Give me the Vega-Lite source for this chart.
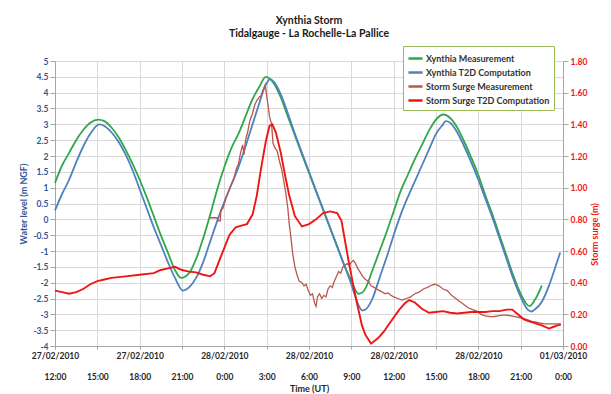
{
"$schema": "https://vega.github.io/schema/vega-lite/v6.json",
"width": 508, "height": 285,
"autosize": "none",
"padding": {"left": 55, "top": 61, "right": 48, "bottom": 48},
"background": "white",
"config": {"font": "Lato", "view": {"stroke": null}},
"title": {"text": ["Xynthia Storm", "Tidalgauge - La Rochelle-La Pallice"], "fontSize": 10.5, "fontWeight": "bold", "lineHeight": 13, "offset": 6, "anchor": "middle", "color": "#1a1a1a"},
"datasets": {
"level": [
{"series":"Xynthia Measurement","time":"2010-02-27T12:00Z","value":1.15},
{"series":"Xynthia Measurement","time":"2010-02-27T12:30Z","value":1.7},
{"series":"Xynthia Measurement","time":"2010-02-27T13:00Z","value":2.1},
{"series":"Xynthia Measurement","time":"2010-02-27T13:30Z","value":2.5},
{"series":"Xynthia Measurement","time":"2010-02-27T14:00Z","value":2.82},
{"series":"Xynthia Measurement","time":"2010-02-27T14:30Z","value":3.05},
{"series":"Xynthia Measurement","time":"2010-02-27T15:04Z","value":3.15},
{"series":"Xynthia Measurement","time":"2010-02-27T15:30Z","value":3.1},
{"series":"Xynthia Measurement","time":"2010-02-27T16:00Z","value":2.9},
{"series":"Xynthia Measurement","time":"2010-02-27T16:30Z","value":2.6},
{"series":"Xynthia Measurement","time":"2010-02-27T17:00Z","value":2.2},
{"series":"Xynthia Measurement","time":"2010-02-27T17:30Z","value":1.75},
{"series":"Xynthia Measurement","time":"2010-02-27T18:00Z","value":1.25},
{"series":"Xynthia Measurement","time":"2010-02-27T18:30Z","value":0.7},
{"series":"Xynthia Measurement","time":"2010-02-27T19:00Z","value":0.1},
{"series":"Xynthia Measurement","time":"2010-02-27T19:30Z","value":-0.5},
{"series":"Xynthia Measurement","time":"2010-02-27T20:00Z","value":-1.05},
{"series":"Xynthia Measurement","time":"2010-02-27T20:30Z","value":-1.6},
{"series":"Xynthia Measurement","time":"2010-02-27T20:56Z","value":-1.85},
{"series":"Xynthia Measurement","time":"2010-02-27T21:30Z","value":-1.7},
{"series":"Xynthia Measurement","time":"2010-02-27T22:00Z","value":-1.25},
{"series":"Xynthia Measurement","time":"2010-02-27T22:30Z","value":-0.6},
{"series":"Xynthia Measurement","time":"2010-02-27T23:00Z","value":0.15},
{"series":"Xynthia Measurement","time":"2010-02-27T23:30Z","value":0.95},
{"series":"Xynthia Measurement","time":"2010-02-28T00:00Z","value":1.65},
{"series":"Xynthia Measurement","time":"2010-02-28T00:30Z","value":2.25},
{"series":"Xynthia Measurement","time":"2010-02-28T01:00Z","value":2.7},
{"series":"Xynthia Measurement","time":"2010-02-28T01:30Z","value":3.25},
{"series":"Xynthia Measurement","time":"2010-02-28T02:00Z","value":3.8},
{"series":"Xynthia Measurement","time":"2010-02-28T02:30Z","value":4.2},
{"series":"Xynthia Measurement","time":"2010-02-28T02:56Z","value":4.5},
{"series":"Xynthia Measurement","time":"2010-02-28T03:30Z","value":4.3},
{"series":"Xynthia Measurement","time":"2010-02-28T04:00Z","value":3.85},
{"series":"Xynthia Measurement","time":"2010-02-28T04:30Z","value":3.25},
{"series":"Xynthia Measurement","time":"2010-02-28T05:00Z","value":2.65},
{"series":"Xynthia Measurement","time":"2010-02-28T05:30Z","value":2.05},
{"series":"Xynthia Measurement","time":"2010-02-28T06:00Z","value":1.47},
{"series":"Xynthia Measurement","time":"2010-02-28T06:30Z","value":0.88},
{"series":"Xynthia Measurement","time":"2010-02-28T07:00Z","value":0.3},
{"series":"Xynthia Measurement","time":"2010-02-28T07:30Z","value":-0.28},
{"series":"Xynthia Measurement","time":"2010-02-28T08:00Z","value":-0.86},
{"series":"Xynthia Measurement","time":"2010-02-28T08:30Z","value":-1.45},
{"series":"Xynthia Measurement","time":"2010-02-28T09:00Z","value":-1.95},
{"series":"Xynthia Measurement","time":"2010-02-28T09:15Z","value":-2.2},
{"series":"Xynthia Measurement","time":"2010-02-28T09:30Z","value":-2.35},
{"series":"Xynthia Measurement","time":"2010-02-28T09:45Z","value":-2.32},
{"series":"Xynthia Measurement","time":"2010-02-28T10:00Z","value":-2.18},
{"series":"Xynthia Measurement","time":"2010-02-28T10:30Z","value":-1.6},
{"series":"Xynthia Measurement","time":"2010-02-28T11:00Z","value":-1.0},
{"series":"Xynthia Measurement","time":"2010-02-28T11:30Z","value":-0.4},
{"series":"Xynthia Measurement","time":"2010-02-28T12:00Z","value":0.25},
{"series":"Xynthia Measurement","time":"2010-02-28T12:30Z","value":0.9},
{"series":"Xynthia Measurement","time":"2010-02-28T13:00Z","value":1.4},
{"series":"Xynthia Measurement","time":"2010-02-28T13:30Z","value":1.9},
{"series":"Xynthia Measurement","time":"2010-02-28T14:00Z","value":2.35},
{"series":"Xynthia Measurement","time":"2010-02-28T14:30Z","value":2.8},
{"series":"Xynthia Measurement","time":"2010-02-28T15:00Z","value":3.15},
{"series":"Xynthia Measurement","time":"2010-02-28T15:31Z","value":3.31},
{"series":"Xynthia Measurement","time":"2010-02-28T16:00Z","value":3.2},
{"series":"Xynthia Measurement","time":"2010-02-28T16:30Z","value":2.9},
{"series":"Xynthia Measurement","time":"2010-02-28T17:00Z","value":2.45},
{"series":"Xynthia Measurement","time":"2010-02-28T17:30Z","value":1.95},
{"series":"Xynthia Measurement","time":"2010-02-28T18:00Z","value":1.4},
{"series":"Xynthia Measurement","time":"2010-02-28T18:30Z","value":0.75},
{"series":"Xynthia Measurement","time":"2010-02-28T19:00Z","value":0.15},
{"series":"Xynthia Measurement","time":"2010-02-28T19:30Z","value":-0.5},
{"series":"Xynthia Measurement","time":"2010-02-28T20:00Z","value":-1.15},
{"series":"Xynthia Measurement","time":"2010-02-28T20:30Z","value":-1.8},
{"series":"Xynthia Measurement","time":"2010-02-28T21:00Z","value":-2.35},
{"series":"Xynthia Measurement","time":"2010-02-28T21:38Z","value":-2.74},
{"series":"Xynthia Measurement","time":"2010-02-28T22:00Z","value":-2.55},
{"series":"Xynthia Measurement","time":"2010-02-28T22:30Z","value":-2.09},
{"series":"Xynthia T2D Computation","time":"2010-02-27T12:00Z","value":0.28},
{"series":"Xynthia T2D Computation","time":"2010-02-27T12:30Z","value":0.8},
{"series":"Xynthia T2D Computation","time":"2010-02-27T13:00Z","value":1.25},
{"series":"Xynthia T2D Computation","time":"2010-02-27T13:30Z","value":1.8},
{"series":"Xynthia T2D Computation","time":"2010-02-27T14:00Z","value":2.3},
{"series":"Xynthia T2D Computation","time":"2010-02-27T14:30Z","value":2.7},
{"series":"Xynthia T2D Computation","time":"2010-02-27T15:08Z","value":3.0},
{"series":"Xynthia T2D Computation","time":"2010-02-27T15:30Z","value":2.95},
{"series":"Xynthia T2D Computation","time":"2010-02-27T16:00Z","value":2.75},
{"series":"Xynthia T2D Computation","time":"2010-02-27T16:30Z","value":2.45},
{"series":"Xynthia T2D Computation","time":"2010-02-27T17:00Z","value":2.05},
{"series":"Xynthia T2D Computation","time":"2010-02-27T17:30Z","value":1.55},
{"series":"Xynthia T2D Computation","time":"2010-02-27T18:00Z","value":0.95},
{"series":"Xynthia T2D Computation","time":"2010-02-27T18:30Z","value":0.35},
{"series":"Xynthia T2D Computation","time":"2010-02-27T19:00Z","value":-0.25},
{"series":"Xynthia T2D Computation","time":"2010-02-27T19:30Z","value":-0.8},
{"series":"Xynthia T2D Computation","time":"2010-02-27T20:00Z","value":-1.35},
{"series":"Xynthia T2D Computation","time":"2010-02-27T20:30Z","value":-1.85},
{"series":"Xynthia T2D Computation","time":"2010-02-27T21:04Z","value":-2.25},
{"series":"Xynthia T2D Computation","time":"2010-02-27T21:30Z","value":-2.15},
{"series":"Xynthia T2D Computation","time":"2010-02-27T22:00Z","value":-1.85},
{"series":"Xynthia T2D Computation","time":"2010-02-27T22:30Z","value":-1.35},
{"series":"Xynthia T2D Computation","time":"2010-02-27T23:00Z","value":-0.7},
{"series":"Xynthia T2D Computation","time":"2010-02-27T23:30Z","value":-0.05},
{"series":"Xynthia T2D Computation","time":"2010-02-28T00:00Z","value":0.55},
{"series":"Xynthia T2D Computation","time":"2010-02-28T00:30Z","value":1.1},
{"series":"Xynthia T2D Computation","time":"2010-02-28T01:00Z","value":1.65},
{"series":"Xynthia T2D Computation","time":"2010-02-28T01:30Z","value":2.3},
{"series":"Xynthia T2D Computation","time":"2010-02-28T02:00Z","value":3.0},
{"series":"Xynthia T2D Computation","time":"2010-02-28T02:30Z","value":3.7},
{"series":"Xynthia T2D Computation","time":"2010-02-28T02:45Z","value":4.05},
{"series":"Xynthia T2D Computation","time":"2010-02-28T03:00Z","value":4.3},
{"series":"Xynthia T2D Computation","time":"2010-02-28T03:14Z","value":4.43},
{"series":"Xynthia T2D Computation","time":"2010-02-28T03:30Z","value":4.35},
{"series":"Xynthia T2D Computation","time":"2010-02-28T04:00Z","value":3.95},
{"series":"Xynthia T2D Computation","time":"2010-02-28T04:30Z","value":3.35},
{"series":"Xynthia T2D Computation","time":"2010-02-28T05:00Z","value":2.7},
{"series":"Xynthia T2D Computation","time":"2010-02-28T05:30Z","value":2.1},
{"series":"Xynthia T2D Computation","time":"2010-02-28T06:00Z","value":1.5},
{"series":"Xynthia T2D Computation","time":"2010-02-28T06:30Z","value":0.9},
{"series":"Xynthia T2D Computation","time":"2010-02-28T07:00Z","value":0.32},
{"series":"Xynthia T2D Computation","time":"2010-02-28T07:30Z","value":-0.27},
{"series":"Xynthia T2D Computation","time":"2010-02-28T08:00Z","value":-0.86},
{"series":"Xynthia T2D Computation","time":"2010-02-28T08:30Z","value":-1.45},
{"series":"Xynthia T2D Computation","time":"2010-02-28T09:00Z","value":-2.05},
{"series":"Xynthia T2D Computation","time":"2010-02-28T09:15Z","value":-2.4},
{"series":"Xynthia T2D Computation","time":"2010-02-28T09:30Z","value":-2.7},
{"series":"Xynthia T2D Computation","time":"2010-02-28T09:46Z","value":-2.88},
{"series":"Xynthia T2D Computation","time":"2010-02-28T10:00Z","value":-2.85},
{"series":"Xynthia T2D Computation","time":"2010-02-28T10:30Z","value":-2.5},
{"series":"Xynthia T2D Computation","time":"2010-02-28T11:00Z","value":-1.85},
{"series":"Xynthia T2D Computation","time":"2010-02-28T11:30Z","value":-1.2},
{"series":"Xynthia T2D Computation","time":"2010-02-28T12:00Z","value":-0.5},
{"series":"Xynthia T2D Computation","time":"2010-02-28T12:30Z","value":0.15},
{"series":"Xynthia T2D Computation","time":"2010-02-28T13:00Z","value":0.7},
{"series":"Xynthia T2D Computation","time":"2010-02-28T13:30Z","value":1.2},
{"series":"Xynthia T2D Computation","time":"2010-02-28T14:00Z","value":1.7},
{"series":"Xynthia T2D Computation","time":"2010-02-28T14:30Z","value":2.2},
{"series":"Xynthia T2D Computation","time":"2010-02-28T15:00Z","value":2.7},
{"series":"Xynthia T2D Computation","time":"2010-02-28T15:30Z","value":3.0},
{"series":"Xynthia T2D Computation","time":"2010-02-28T15:41Z","value":3.1},
{"series":"Xynthia T2D Computation","time":"2010-02-28T16:00Z","value":3.05},
{"series":"Xynthia T2D Computation","time":"2010-02-28T16:30Z","value":2.75},
{"series":"Xynthia T2D Computation","time":"2010-02-28T17:00Z","value":2.3},
{"series":"Xynthia T2D Computation","time":"2010-02-28T17:30Z","value":1.8},
{"series":"Xynthia T2D Computation","time":"2010-02-28T18:00Z","value":1.25},
{"series":"Xynthia T2D Computation","time":"2010-02-28T18:30Z","value":0.65},
{"series":"Xynthia T2D Computation","time":"2010-02-28T19:00Z","value":0.05},
{"series":"Xynthia T2D Computation","time":"2010-02-28T19:30Z","value":-0.6},
{"series":"Xynthia T2D Computation","time":"2010-02-28T20:00Z","value":-1.25},
{"series":"Xynthia T2D Computation","time":"2010-02-28T20:30Z","value":-1.9},
{"series":"Xynthia T2D Computation","time":"2010-02-28T21:00Z","value":-2.45},
{"series":"Xynthia T2D Computation","time":"2010-02-28T21:30Z","value":-2.85},
{"series":"Xynthia T2D Computation","time":"2010-02-28T21:46Z","value":-2.91},
{"series":"Xynthia T2D Computation","time":"2010-02-28T22:00Z","value":-2.85},
{"series":"Xynthia T2D Computation","time":"2010-02-28T22:30Z","value":-2.6},
{"series":"Xynthia T2D Computation","time":"2010-02-28T23:00Z","value":-2.1},
{"series":"Xynthia T2D Computation","time":"2010-02-28T23:30Z","value":-1.45},
{"series":"Xynthia T2D Computation","time":"2010-02-28T23:48Z","value":-1.05}
],
"surge": [
{"series":"Storm Surge Measurement","time":"2010-02-27T22:57Z","value":0.81},
{"series":"Storm Surge Measurement","time":"2010-02-27T23:30Z","value":0.81},
{"series":"Storm Surge Measurement","time":"2010-02-27T23:33Z","value":0.79},
{"series":"Storm Surge Measurement","time":"2010-02-27T23:43Z","value":0.79},
{"series":"Storm Surge Measurement","time":"2010-02-27T23:45Z","value":0.86},
{"series":"Storm Surge Measurement","time":"2010-02-27T23:54Z","value":0.87},
{"series":"Storm Surge Measurement","time":"2010-02-28T00:06Z","value":0.93},
{"series":"Storm Surge Measurement","time":"2010-02-28T00:21Z","value":0.99},
{"series":"Storm Surge Measurement","time":"2010-02-28T00:30Z","value":1.02},
{"series":"Storm Surge Measurement","time":"2010-02-28T00:42Z","value":1.06},
{"series":"Storm Surge Measurement","time":"2010-02-28T00:51Z","value":1.12},
{"series":"Storm Surge Measurement","time":"2010-02-28T01:00Z","value":1.15},
{"series":"Storm Surge Measurement","time":"2010-02-28T01:09Z","value":1.22},
{"series":"Storm Surge Measurement","time":"2010-02-28T01:18Z","value":1.27},
{"series":"Storm Surge Measurement","time":"2010-02-28T01:24Z","value":1.21},
{"series":"Storm Surge Measurement","time":"2010-02-28T01:30Z","value":1.3},
{"series":"Storm Surge Measurement","time":"2010-02-28T01:39Z","value":1.35},
{"series":"Storm Surge Measurement","time":"2010-02-28T01:48Z","value":1.42},
{"series":"Storm Surge Measurement","time":"2010-02-28T02:00Z","value":1.47},
{"series":"Storm Surge Measurement","time":"2010-02-28T02:09Z","value":1.52},
{"series":"Storm Surge Measurement","time":"2010-02-28T02:18Z","value":1.55},
{"series":"Storm Surge Measurement","time":"2010-02-28T02:27Z","value":1.57},
{"series":"Storm Surge Measurement","time":"2010-02-28T02:36Z","value":1.58},
{"series":"Storm Surge Measurement","time":"2010-02-28T02:45Z","value":1.62},
{"series":"Storm Surge Measurement","time":"2010-02-28T02:54Z","value":1.65},
{"series":"Storm Surge Measurement","time":"2010-02-28T03:00Z","value":1.58},
{"series":"Storm Surge Measurement","time":"2010-02-28T03:06Z","value":1.52},
{"series":"Storm Surge Measurement","time":"2010-02-28T03:12Z","value":1.45},
{"series":"Storm Surge Measurement","time":"2010-02-28T03:21Z","value":1.4},
{"series":"Storm Surge Measurement","time":"2010-02-28T03:27Z","value":1.28},
{"series":"Storm Surge Measurement","time":"2010-02-28T03:36Z","value":1.25},
{"series":"Storm Surge Measurement","time":"2010-02-28T03:45Z","value":1.23},
{"series":"Storm Surge Measurement","time":"2010-02-28T03:54Z","value":1.17},
{"series":"Storm Surge Measurement","time":"2010-02-28T04:03Z","value":1.12},
{"series":"Storm Surge Measurement","time":"2010-02-28T04:12Z","value":1.05},
{"series":"Storm Surge Measurement","time":"2010-02-28T04:21Z","value":0.97},
{"series":"Storm Surge Measurement","time":"2010-02-28T04:30Z","value":0.87},
{"series":"Storm Surge Measurement","time":"2010-02-28T04:36Z","value":0.77},
{"series":"Storm Surge Measurement","time":"2010-02-28T04:42Z","value":0.7},
{"series":"Storm Surge Measurement","time":"2010-02-28T04:51Z","value":0.58},
{"series":"Storm Surge Measurement","time":"2010-02-28T05:00Z","value":0.5},
{"series":"Storm Surge Measurement","time":"2010-02-28T05:09Z","value":0.45},
{"series":"Storm Surge Measurement","time":"2010-02-28T05:18Z","value":0.41},
{"series":"Storm Surge Measurement","time":"2010-02-28T05:30Z","value":0.4},
{"series":"Storm Surge Measurement","time":"2010-02-28T05:39Z","value":0.38},
{"series":"Storm Surge Measurement","time":"2010-02-28T05:48Z","value":0.39},
{"series":"Storm Surge Measurement","time":"2010-02-28T05:57Z","value":0.35},
{"series":"Storm Surge Measurement","time":"2010-02-28T06:06Z","value":0.32},
{"series":"Storm Surge Measurement","time":"2010-02-28T06:15Z","value":0.33},
{"series":"Storm Surge Measurement","time":"2010-02-28T06:24Z","value":0.27},
{"series":"Storm Surge Measurement","time":"2010-02-28T06:30Z","value":0.25},
{"series":"Storm Surge Measurement","time":"2010-02-28T06:36Z","value":0.31},
{"series":"Storm Surge Measurement","time":"2010-02-28T06:45Z","value":0.33},
{"series":"Storm Surge Measurement","time":"2010-02-28T06:54Z","value":0.3},
{"series":"Storm Surge Measurement","time":"2010-02-28T07:03Z","value":0.32},
{"series":"Storm Surge Measurement","time":"2010-02-28T07:12Z","value":0.31},
{"series":"Storm Surge Measurement","time":"2010-02-28T07:21Z","value":0.36},
{"series":"Storm Surge Measurement","time":"2010-02-28T07:30Z","value":0.38},
{"series":"Storm Surge Measurement","time":"2010-02-28T07:39Z","value":0.37},
{"series":"Storm Surge Measurement","time":"2010-02-28T07:48Z","value":0.41},
{"series":"Storm Surge Measurement","time":"2010-02-28T07:57Z","value":0.44},
{"series":"Storm Surge Measurement","time":"2010-02-28T08:06Z","value":0.47},
{"series":"Storm Surge Measurement","time":"2010-02-28T08:15Z","value":0.46},
{"series":"Storm Surge Measurement","time":"2010-02-28T08:24Z","value":0.5},
{"series":"Storm Surge Measurement","time":"2010-02-28T08:33Z","value":0.51},
{"series":"Storm Surge Measurement","time":"2010-02-28T08:42Z","value":0.52},
{"series":"Storm Surge Measurement","time":"2010-02-28T08:51Z","value":0.51},
{"series":"Storm Surge Measurement","time":"2010-02-28T09:00Z","value":0.53},
{"series":"Storm Surge Measurement","time":"2010-02-28T09:09Z","value":0.54},
{"series":"Storm Surge Measurement","time":"2010-02-28T09:18Z","value":0.52},
{"series":"Storm Surge Measurement","time":"2010-02-28T09:27Z","value":0.49},
{"series":"Storm Surge Measurement","time":"2010-02-28T09:36Z","value":0.47},
{"series":"Storm Surge Measurement","time":"2010-02-28T09:48Z","value":0.44},
{"series":"Storm Surge Measurement","time":"2010-02-28T10:00Z","value":0.42},
{"series":"Storm Surge Measurement","time":"2010-02-28T10:12Z","value":0.41},
{"series":"Storm Surge Measurement","time":"2010-02-28T10:24Z","value":0.38},
{"series":"Storm Surge Measurement","time":"2010-02-28T10:36Z","value":0.37},
{"series":"Storm Surge Measurement","time":"2010-02-28T10:48Z","value":0.36},
{"series":"Storm Surge Measurement","time":"2010-02-28T11:00Z","value":0.35},
{"series":"Storm Surge Measurement","time":"2010-02-28T11:12Z","value":0.34},
{"series":"Storm Surge Measurement","time":"2010-02-28T11:24Z","value":0.33},
{"series":"Storm Surge Measurement","time":"2010-02-28T11:36Z","value":0.335},
{"series":"Storm Surge Measurement","time":"2010-02-28T11:48Z","value":0.32},
{"series":"Storm Surge Measurement","time":"2010-02-28T12:00Z","value":0.31},
{"series":"Storm Surge Measurement","time":"2010-02-28T12:18Z","value":0.3},
{"series":"Storm Surge Measurement","time":"2010-02-28T12:36Z","value":0.29},
{"series":"Storm Surge Measurement","time":"2010-02-28T12:54Z","value":0.3},
{"series":"Storm Surge Measurement","time":"2010-02-28T13:12Z","value":0.31},
{"series":"Storm Surge Measurement","time":"2010-02-28T13:30Z","value":0.33},
{"series":"Storm Surge Measurement","time":"2010-02-28T13:48Z","value":0.34},
{"series":"Storm Surge Measurement","time":"2010-02-28T14:06Z","value":0.36},
{"series":"Storm Surge Measurement","time":"2010-02-28T14:24Z","value":0.37},
{"series":"Storm Surge Measurement","time":"2010-02-28T14:42Z","value":0.385},
{"series":"Storm Surge Measurement","time":"2010-02-28T14:57Z","value":0.39},
{"series":"Storm Surge Measurement","time":"2010-02-28T15:12Z","value":0.38},
{"series":"Storm Surge Measurement","time":"2010-02-28T15:30Z","value":0.36},
{"series":"Storm Surge Measurement","time":"2010-02-28T15:48Z","value":0.35},
{"series":"Storm Surge Measurement","time":"2010-02-28T16:06Z","value":0.32},
{"series":"Storm Surge Measurement","time":"2010-02-28T16:24Z","value":0.3},
{"series":"Storm Surge Measurement","time":"2010-02-28T16:42Z","value":0.28},
{"series":"Storm Surge Measurement","time":"2010-02-28T17:00Z","value":0.26},
{"series":"Storm Surge Measurement","time":"2010-02-28T17:18Z","value":0.24},
{"series":"Storm Surge Measurement","time":"2010-02-28T17:36Z","value":0.23},
{"series":"Storm Surge Measurement","time":"2010-02-28T17:54Z","value":0.22},
{"series":"Storm Surge Measurement","time":"2010-02-28T18:12Z","value":0.2},
{"series":"Storm Surge Measurement","time":"2010-02-28T18:30Z","value":0.19},
{"series":"Storm Surge Measurement","time":"2010-02-28T18:48Z","value":0.185},
{"series":"Storm Surge Measurement","time":"2010-02-28T19:06Z","value":0.185},
{"series":"Storm Surge Measurement","time":"2010-02-28T19:24Z","value":0.19},
{"series":"Storm Surge Measurement","time":"2010-02-28T19:42Z","value":0.195},
{"series":"Storm Surge Measurement","time":"2010-02-28T20:00Z","value":0.195},
{"series":"Storm Surge Measurement","time":"2010-02-28T20:18Z","value":0.19},
{"series":"Storm Surge Measurement","time":"2010-02-28T20:36Z","value":0.185},
{"series":"Storm Surge Measurement","time":"2010-02-28T20:54Z","value":0.18},
{"series":"Storm Surge Measurement","time":"2010-02-28T21:12Z","value":0.175},
{"series":"Storm Surge Measurement","time":"2010-02-28T21:30Z","value":0.165},
{"series":"Storm Surge Measurement","time":"2010-02-28T21:48Z","value":0.155},
{"series":"Storm Surge Measurement","time":"2010-02-28T22:06Z","value":0.15},
{"series":"Storm Surge Measurement","time":"2010-02-28T22:24Z","value":0.145},
{"series":"Storm Surge Measurement","time":"2010-02-28T22:42Z","value":0.14},
{"series":"Storm Surge Measurement","time":"2010-02-28T23:00Z","value":0.14},
{"series":"Storm Surge Measurement","time":"2010-02-28T23:18Z","value":0.14},
{"series":"Storm Surge Measurement","time":"2010-02-28T23:36Z","value":0.14},
{"series":"Storm Surge Measurement","time":"2010-02-28T23:51Z","value":0.14},
{"series":"Storm Surge T2D Computation","time":"2010-02-27T12:00Z","value":0.35},
{"series":"Storm Surge T2D Computation","time":"2010-02-27T12:30Z","value":0.34},
{"series":"Storm Surge T2D Computation","time":"2010-02-27T13:00Z","value":0.33},
{"series":"Storm Surge T2D Computation","time":"2010-02-27T13:30Z","value":0.34},
{"series":"Storm Surge T2D Computation","time":"2010-02-27T14:00Z","value":0.36},
{"series":"Storm Surge T2D Computation","time":"2010-02-27T14:30Z","value":0.39},
{"series":"Storm Surge T2D Computation","time":"2010-02-27T15:00Z","value":0.41},
{"series":"Storm Surge T2D Computation","time":"2010-02-27T15:30Z","value":0.42},
{"series":"Storm Surge T2D Computation","time":"2010-02-27T16:00Z","value":0.43},
{"series":"Storm Surge T2D Computation","time":"2010-02-27T17:00Z","value":0.44},
{"series":"Storm Surge T2D Computation","time":"2010-02-27T18:00Z","value":0.45},
{"series":"Storm Surge T2D Computation","time":"2010-02-27T19:00Z","value":0.46},
{"series":"Storm Surge T2D Computation","time":"2010-02-27T19:30Z","value":0.48},
{"series":"Storm Surge T2D Computation","time":"2010-02-27T20:00Z","value":0.49},
{"series":"Storm Surge T2D Computation","time":"2010-02-27T20:30Z","value":0.5},
{"series":"Storm Surge T2D Computation","time":"2010-02-27T21:00Z","value":0.48},
{"series":"Storm Surge T2D Computation","time":"2010-02-27T21:30Z","value":0.47},
{"series":"Storm Surge T2D Computation","time":"2010-02-27T22:00Z","value":0.465},
{"series":"Storm Surge T2D Computation","time":"2010-02-27T22:30Z","value":0.45},
{"series":"Storm Surge T2D Computation","time":"2010-02-27T23:00Z","value":0.44},
{"series":"Storm Surge T2D Computation","time":"2010-02-27T23:18Z","value":0.46},
{"series":"Storm Surge T2D Computation","time":"2010-02-27T23:36Z","value":0.53},
{"series":"Storm Surge T2D Computation","time":"2010-02-28T00:00Z","value":0.62},
{"series":"Storm Surge T2D Computation","time":"2010-02-28T00:21Z","value":0.7},
{"series":"Storm Surge T2D Computation","time":"2010-02-28T00:48Z","value":0.75},
{"series":"Storm Surge T2D Computation","time":"2010-02-28T01:12Z","value":0.76},
{"series":"Storm Surge T2D Computation","time":"2010-02-28T01:36Z","value":0.77},
{"series":"Storm Surge T2D Computation","time":"2010-02-28T02:00Z","value":0.83},
{"series":"Storm Surge T2D Computation","time":"2010-02-28T02:18Z","value":0.95},
{"series":"Storm Surge T2D Computation","time":"2010-02-28T02:36Z","value":1.12},
{"series":"Storm Surge T2D Computation","time":"2010-02-28T02:56Z","value":1.29},
{"series":"Storm Surge T2D Computation","time":"2010-02-28T03:12Z","value":1.39},
{"series":"Storm Surge T2D Computation","time":"2010-02-28T03:24Z","value":1.4},
{"series":"Storm Surge T2D Computation","time":"2010-02-28T03:39Z","value":1.35},
{"series":"Storm Surge T2D Computation","time":"2010-02-28T04:00Z","value":1.22},
{"series":"Storm Surge T2D Computation","time":"2010-02-28T04:18Z","value":1.08},
{"series":"Storm Surge T2D Computation","time":"2010-02-28T04:36Z","value":0.95},
{"series":"Storm Surge T2D Computation","time":"2010-02-28T05:00Z","value":0.82},
{"series":"Storm Surge T2D Computation","time":"2010-02-28T05:30Z","value":0.755},
{"series":"Storm Surge T2D Computation","time":"2010-02-28T06:00Z","value":0.77},
{"series":"Storm Surge T2D Computation","time":"2010-02-28T06:30Z","value":0.8},
{"series":"Storm Surge T2D Computation","time":"2010-02-28T07:00Z","value":0.84},
{"series":"Storm Surge T2D Computation","time":"2010-02-28T07:30Z","value":0.85},
{"series":"Storm Surge T2D Computation","time":"2010-02-28T08:00Z","value":0.84},
{"series":"Storm Surge T2D Computation","time":"2010-02-28T08:18Z","value":0.79},
{"series":"Storm Surge T2D Computation","time":"2010-02-28T08:30Z","value":0.69},
{"series":"Storm Surge T2D Computation","time":"2010-02-28T08:48Z","value":0.54},
{"series":"Storm Surge T2D Computation","time":"2010-02-28T09:06Z","value":0.4},
{"series":"Storm Surge T2D Computation","time":"2010-02-28T09:24Z","value":0.27},
{"series":"Storm Surge T2D Computation","time":"2010-02-28T09:45Z","value":0.13},
{"series":"Storm Surge T2D Computation","time":"2010-02-28T10:00Z","value":0.07},
{"series":"Storm Surge T2D Computation","time":"2010-02-28T10:24Z","value":0.015},
{"series":"Storm Surge T2D Computation","time":"2010-02-28T10:54Z","value":0.05},
{"series":"Storm Surge T2D Computation","time":"2010-02-28T11:18Z","value":0.09},
{"series":"Storm Surge T2D Computation","time":"2010-02-28T11:36Z","value":0.13},
{"series":"Storm Surge T2D Computation","time":"2010-02-28T12:00Z","value":0.18},
{"series":"Storm Surge T2D Computation","time":"2010-02-28T12:24Z","value":0.23},
{"series":"Storm Surge T2D Computation","time":"2010-02-28T12:48Z","value":0.27},
{"series":"Storm Surge T2D Computation","time":"2010-02-28T13:06Z","value":0.29},
{"series":"Storm Surge T2D Computation","time":"2010-02-28T13:30Z","value":0.275},
{"series":"Storm Surge T2D Computation","time":"2010-02-28T14:00Z","value":0.235},
{"series":"Storm Surge T2D Computation","time":"2010-02-28T14:30Z","value":0.21},
{"series":"Storm Surge T2D Computation","time":"2010-02-28T15:00Z","value":0.215},
{"series":"Storm Surge T2D Computation","time":"2010-02-28T15:30Z","value":0.22},
{"series":"Storm Surge T2D Computation","time":"2010-02-28T16:00Z","value":0.21},
{"series":"Storm Surge T2D Computation","time":"2010-02-28T16:30Z","value":0.205},
{"series":"Storm Surge T2D Computation","time":"2010-02-28T17:00Z","value":0.21},
{"series":"Storm Surge T2D Computation","time":"2010-02-28T17:30Z","value":0.215},
{"series":"Storm Surge T2D Computation","time":"2010-02-28T18:00Z","value":0.215},
{"series":"Storm Surge T2D Computation","time":"2010-02-28T18:30Z","value":0.215},
{"series":"Storm Surge T2D Computation","time":"2010-02-28T19:00Z","value":0.22},
{"series":"Storm Surge T2D Computation","time":"2010-02-28T19:30Z","value":0.22},
{"series":"Storm Surge T2D Computation","time":"2010-02-28T20:00Z","value":0.23},
{"series":"Storm Surge T2D Computation","time":"2010-02-28T20:24Z","value":0.23},
{"series":"Storm Surge T2D Computation","time":"2010-02-28T20:48Z","value":0.2},
{"series":"Storm Surge T2D Computation","time":"2010-02-28T21:12Z","value":0.17},
{"series":"Storm Surge T2D Computation","time":"2010-02-28T21:36Z","value":0.155},
{"series":"Storm Surge T2D Computation","time":"2010-02-28T22:00Z","value":0.145},
{"series":"Storm Surge T2D Computation","time":"2010-02-28T22:30Z","value":0.13},
{"series":"Storm Surge T2D Computation","time":"2010-02-28T23:00Z","value":0.11},
{"series":"Storm Surge T2D Computation","time":"2010-02-28T23:18Z","value":0.12},
{"series":"Storm Surge T2D Computation","time":"2010-02-28T23:36Z","value":0.13},
{"series":"Storm Surge T2D Computation","time":"2010-02-28T23:51Z","value":0.135}
]
},
"layer": [
{
"data": {"name": "level"},
"mark": {"type": "line", "strokeWidth": 1.8, "interpolate": "monotone"},
"encoding": {
"x": {"field": "time", "type": "temporal",
"scale": {"type": "utc", "domain": [{"year": 2010, "month": 2, "date": 27, "hours": 12, "utc": true}, {"year": 2010, "month": 3, "date": 1, "hours": 0, "utc": true}]},
"axis": {
"orient": "bottom",
"values": [
{"year": 2010, "month": 2, "date": 27, "hours": 12, "utc": true},
{"year": 2010, "month": 2, "date": 27, "hours": 15, "utc": true},
{"year": 2010, "month": 2, "date": 27, "hours": 18, "utc": true},
{"year": 2010, "month": 2, "date": 27, "hours": 21, "utc": true},
{"year": 2010, "month": 2, "date": 28, "hours": 0, "utc": true},
{"year": 2010, "month": 2, "date": 28, "hours": 3, "utc": true},
{"year": 2010, "month": 2, "date": 28, "hours": 6, "utc": true},
{"year": 2010, "month": 2, "date": 28, "hours": 9, "utc": true},
{"year": 2010, "month": 2, "date": 28, "hours": 12, "utc": true},
{"year": 2010, "month": 2, "date": 28, "hours": 15, "utc": true},
{"year": 2010, "month": 2, "date": 28, "hours": 18, "utc": true},
{"year": 2010, "month": 2, "date": 28, "hours": 21, "utc": true},
{"year": 2010, "month": 3, "date": 1, "hours": 0, "utc": true}
],
"labelExpr": "utchours(datum.value) + ':00'",
"labelAlign": "center", "labelBaseline": "top",
"labelFontSize": 8.5, "labelFontWeight": "bold", "labelColor": "#262626",
"labelOverlap": false, "labelFlush": false,
"tickSize": 3, "labelPadding": 23, "tickColor": "#a6a6a6", "domainColor": "#a6a6a6",
"grid": true, "gridColor": "#d9d9d9",
"title": "Time (UT)", "titleY": 38, "titleBaseline": "top", "titleFontSize": 9, "titleFontWeight": "bold", "titleColor": "#262626"
}
},
"y": {"field": "value", "type": "quantitative",
"scale": {"domain": [-4, 5], "nice": false, "zero": false},
"axis": {
"values": [-4, -3.5, -3, -2.5, -2, -1.5, -1, -0.5, 0, 0.5, 1, 1.5, 2, 2.5, 3, 3.5, 4, 4.5, 5],
"labelExpr": "'' + datum.value",
"labelFontSize": 8.5, "labelFontWeight": "bold", "labelColor": "#2F5597",
"tickSize": 5, "labelPadding": 2, "tickColor": "#a6a6a6", "domainColor": "#a6a6a6",
"grid": true, "gridColor": "#d9d9d9",
"title": "Water level (m NGF)", "titleFontSize": 9, "titleFontWeight": "bold", "titleColor": "#2F5597"
}
},
"color": {"field": "series", "type": "nominal",
"scale": {"domain": ["Xynthia Measurement", "Xynthia T2D Computation", "Storm Surge Measurement", "Storm Surge T2D Computation"], "range": ["#2ea84a", "#4f81bd", "#b9574f", "#f01414"]},
"legend": {"orient": "none", "legendX": 348, "legendY": -15, "title": null, "symbolType": "stroke", "symbolSize": 200, "symbolStrokeWidth": 2.5, "labelFontSize": 9, "labelFontWeight": "bold", "labelColor": "#333333", "strokeColor": "#9bbb59", "fillColor": "white", "padding": 4, "rowPadding": 0, "labelOffset": 2}
}
}
},
{
"data": {"name": "surge"},
"mark": {"type": "line", "interpolate": "linear"},
"encoding": {
"x": {"field": "time", "type": "temporal",
"axis": {
"orient": "bottom",
"values": [
{"year": 2010, "month": 2, "date": 27, "hours": 12, "utc": true},
{"year": 2010, "month": 2, "date": 27, "hours": 18, "utc": true},
{"year": 2010, "month": 2, "date": 28, "hours": 0, "utc": true},
{"year": 2010, "month": 2, "date": 28, "hours": 6, "utc": true},
{"year": 2010, "month": 2, "date": 28, "hours": 12, "utc": true},
{"year": 2010, "month": 2, "date": 28, "hours": 18, "utc": true},
{"year": 2010, "month": 3, "date": 1, "hours": 0, "utc": true}
],
"labelExpr": "utcFormat(datum.value, '%d/%m/%Y')",
"labelAlign": "center", "labelBaseline": "top",
"labelFontSize": 8.5, "labelFontWeight": "bold", "labelColor": "#262626",
"labelOverlap": false, "labelFlush": false,
"tickSize": 3, "labelPadding": 2, "tickColor": "#a6a6a6", "domainColor": "#a6a6a6",
"grid": false, "title": null
}
},
"y": {"field": "value", "type": "quantitative",
"scale": {"domain": [0, 1.8], "nice": false},
"axis": {
"orient": "right",
"values": [0, 0.2, 0.4, 0.6, 0.8, 1, 1.2, 1.4, 1.6, 1.8],
"labelExpr": "format(datum.value, '.2f')",
"labelFontSize": 8.5, "labelFontWeight": "bold", "labelColor": "#f01414",
"tickSize": 5, "labelPadding": 2, "tickColor": "#a6a6a6", "domainColor": "#a6a6a6",
"grid": false,
"title": "Storm surge (m)", "titleAngle": 270, "titleX": 31, "titleY": 173, "titleAlign": "center", "titleBaseline": "middle", "titleFontSize": 9, "titleFontWeight": "bold", "titleColor": "#f01414"
}
},
"color": {"field": "series", "type": "nominal"},
"strokeWidth": {"field": "series", "type": "nominal", "scale": {"domain": ["Storm Surge Measurement", "Storm Surge T2D Computation"], "range": [1.3, 1.9]}, "legend": null}
}
}
],
"resolve": {"scale": {"y": "independent"}, "axis": {"x": "independent"}}
}
